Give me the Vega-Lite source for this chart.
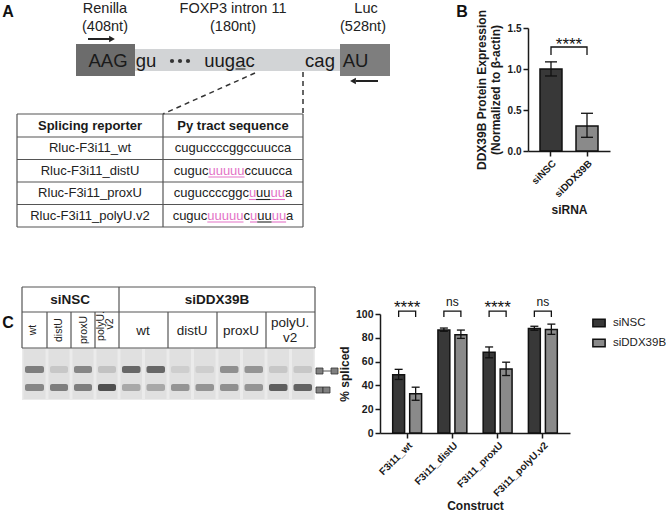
{
  "$schema": "https://vega.github.io/schema/vega-lite/v6.json",
  "padding": 0,
  "autosize": {"type": "pad"},
  "background": "white",
  "spacing": 0,
  "bounds": "flush",
  "columns": 2,
  "resolve": {"scale": {"fill": "independent", "color": "independent"}, "legend": {"fill": "independent", "color": "independent"}},
  "config": {
    "font": "Liberation Sans",
    "view": {"stroke": null},
    "axis": {"labelFont": "Liberation Sans", "titleFont": "Liberation Sans", "labelFontWeight": "bold", "titleFontWeight": "bold", "labelColor": "#1a1a1a", "titleColor": "#1a1a1a", "domainColor": "#1a1a1a", "tickColor": "#1a1a1a", "domainWidth": 1.5, "tickWidth": 1.5, "tickSize": 5, "grid": false, "labelOverlap": false},
    "text": {"font": "Liberation Sans"}
  },
  "concat": [
        {
          "width": 380, "height": 280,
          "encoding": {
            "x": {"field": "x", "type": "quantitative", "scale": {"domain": [0, 380], "nice": false, "zero": false}, "axis": null},
            "y": {"field": "y", "type": "quantitative", "scale": {"domain": [0, 280], "nice": false, "zero": false, "reverse": true}, "axis": null}
          },
          "layer": [
            {"data": {"values": [{"x": 135, "x2": 340, "y": 49, "y2": 71}]}, "mark": {"type": "rect", "fill": "#d2d4d6"}, "encoding": {"x2": {"field": "x2"}, "y2": {"field": "y2"}}},
            {"data": {"values": [{"x": 76, "x2": 135, "y": 44, "y2": 76}]}, "mark": {"type": "rect", "fill": "#6c6c6c"}, "encoding": {"x2": {"field": "x2"}, "y2": {"field": "y2"}}},
            {"data": {"values": [{"x": 340, "x2": 390, "y": 44, "y2": 76}]}, "mark": {"type": "rect", "fill": "#7e7e7e"}, "encoding": {"x2": {"field": "x2"}, "y2": {"field": "y2"}}},
            {"data": {"values": [
              {"x": 105, "y": 9, "t": "Renilla"}, {"x": 105, "y": 27, "t": "(408nt)"},
              {"x": 233, "y": 9, "t": "FOXP3 intron 11"}, {"x": 233, "y": 27, "t": "(180nt)"},
              {"x": 366, "y": 9, "t": "Luc"}, {"x": 363, "y": 27, "t": "(528nt)"}
            ]}, "mark": {"type": "text", "fontSize": 14.5, "color": "#222", "align": "center", "baseline": "middle"}, "encoding": {"text": {"field": "t"}}},
            {"data": {"values": [
              {"x": 108, "y": 61, "t": "AAG"}, {"x": 146, "y": 61, "t": "gu"}, {"x": 229.5, "y": 61, "t": "uugac"},
              {"x": 320, "y": 61, "t": "cag"}, {"x": 355.5, "y": 61, "t": "AU"}
            ]}, "mark": {"type": "text", "fontSize": 18.5, "color": "#1a1a1a", "align": "center", "baseline": "middle"}, "encoding": {"text": {"field": "t"}}},
            {"data": {"values": [{"x": 172, "y": 61}, {"x": 180, "y": 61}, {"x": 188, "y": 61}]}, "mark": {"type": "point", "filled": true, "size": 18, "color": "#333", "opacity": 1}},
            {"data": {"values": [{"x": 235.5, "x2": 245.5, "y": 69, "y2": 69}]}, "mark": {"type": "rule", "strokeWidth": 1.2, "color": "#333"}, "encoding": {"x2": {"field": "x2"}, "y2": {"field": "y2"}}},
            {"data": {"values": [{"x": 88, "x2": 110, "y": 39, "y2": 39}, {"x": 378, "x2": 356, "y": 81, "y2": 81}]}, "mark": {"type": "rule", "strokeWidth": 2, "color": "#222"}, "encoding": {"x2": {"field": "x2"}, "y2": {"field": "y2"}}},
            {"data": {"values": [{"x": 112, "y": 39}]}, "mark": {"type": "point", "shape": "triangle-right", "filled": true, "size": 45, "color": "#222", "opacity": 1}},
            {"data": {"values": [{"x": 353, "y": 81}]}, "mark": {"type": "point", "shape": "triangle-left", "filled": true, "size": 45, "color": "#222", "opacity": 1}},
            {"data": {"values": [{"x": 255, "x2": 163, "y": 73, "y2": 114}, {"x": 303, "x2": 303, "y": 72, "y2": 114}]}, "mark": {"type": "rule", "strokeWidth": 1.5, "color": "#333", "strokeDash": [5, 4]}, "encoding": {"x2": {"field": "x2"}, "y2": {"field": "y2"}}},
            {"data": {"values": [
              {"x": 17, "x2": 303, "y": 114, "y2": 114}, {"x": 17, "x2": 303, "y": 137, "y2": 137},
              {"x": 17, "x2": 303, "y": 159.5, "y2": 159.5}, {"x": 17, "x2": 303, "y": 182, "y2": 182},
              {"x": 17, "x2": 303, "y": 204.5, "y2": 204.5}, {"x": 17, "x2": 303, "y": 227, "y2": 227},
              {"x": 17, "x2": 17, "y": 114, "y2": 227}, {"x": 163, "x2": 163, "y": 114, "y2": 227}, {"x": 303, "x2": 303, "y": 114, "y2": 227}
            ]}, "mark": {"type": "rule", "strokeWidth": 1.2, "color": "#555"}, "encoding": {"x2": {"field": "x2"}, "y2": {"field": "y2"}}},
            {"data": {"values": [{"x": 90, "y": 126, "t": "Splicing reporter"}, {"x": 233, "y": 126, "t": "Py tract sequence"}]}, "mark": {"type": "text", "fontSize": 13, "fontWeight": "bold", "color": "#1a1a1a", "align": "center", "baseline": "middle"}, "encoding": {"text": {"field": "t"}}},
            {"data": {"values": [
              {"x": 90, "y": 148, "t": "Rluc-F3i11_wt"}, {"x": 90, "y": 170.5, "t": "Rluc-F3i11_distU"},
              {"x": 90, "y": 193, "t": "Rluc-F3i11_proxU"}, {"x": 90, "y": 215.5, "t": "Rluc-F3i11_polyU.v2"}
            ]}, "mark": {"type": "text", "fontSize": 13, "color": "#222", "align": "center", "baseline": "middle"}, "encoding": {"text": {"field": "t"}}},
            {"data": {"values": [
              {"x": 174.85, "y": 148, "t": "cuguccccggccuucca", "kind": "plain"},
              {"x": 173.75, "y": 170.5, "t": "cuguc", "kind": "plain"},
              {"x": 208.43, "y": 170.5, "t": "uuuuu", "kind": "pink"},
              {"x": 244.58, "y": 170.5, "t": "ccuucca", "kind": "plain"},
              {"x": 173.74, "y": 193, "t": "cuguccccggc", "kind": "plain"},
              {"x": 248.89, "y": 193, "t": "u", "kind": "pink"},
              {"x": 256.12, "y": 193, "t": "uu", "kind": "plain"},
              {"x": 270.58, "y": 193, "t": "uu", "kind": "pink"},
              {"x": 285.04, "y": 193, "t": "a", "kind": "plain"},
              {"x": 172.64, "y": 215.5, "t": "cuguc", "kind": "plain"},
              {"x": 207.32, "y": 215.5, "t": "uuuuu", "kind": "pink"},
              {"x": 243.47, "y": 215.5, "t": "c", "kind": "plain"},
              {"x": 249.97, "y": 215.5, "t": "u", "kind": "pink"},
              {"x": 257.2, "y": 215.5, "t": "uu", "kind": "plain"},
              {"x": 271.66, "y": 215.5, "t": "uu", "kind": "pink"},
              {"x": 286.12, "y": 215.5, "t": "a", "kind": "plain"}
            ]}, "mark": {"type": "text", "fontSize": 13, "align": "left", "baseline": "middle"}, "encoding": {"text": {"field": "t"}, "color": {"field": "kind", "type": "nominal", "scale": {"domain": ["plain", "pink"], "range": ["#222222", "#e472c6"]}, "legend": null}}},
            {"data": {"values": [
              {"x": 208.4, "x2": 244.6, "y": 177, "y2": 177, "kind": "pink"},
              {"x": 248.9, "x2": 256.1, "y": 199.5, "y2": 199.5, "kind": "pink"},
              {"x": 256.1, "x2": 270.6, "y": 199.5, "y2": 199.5, "kind": "plain"},
              {"x": 270.6, "x2": 285.0, "y": 199.5, "y2": 199.5, "kind": "pink"},
              {"x": 207.3, "x2": 243.5, "y": 222, "y2": 222, "kind": "pink"},
              {"x": 250.0, "x2": 257.2, "y": 222, "y2": 222, "kind": "pink"},
              {"x": 257.2, "x2": 271.7, "y": 222, "y2": 222, "kind": "plain"},
              {"x": 271.7, "x2": 286.1, "y": 222, "y2": 222, "kind": "pink"}
            ]}, "mark": {"type": "rule", "strokeWidth": 1.1}, "encoding": {"x2": {"field": "x2"}, "y2": {"field": "y2"}, "color": {"field": "kind", "type": "nominal", "scale": {"domain": ["plain", "pink"], "range": ["#222222", "#e472c6"]}, "legend": null}}},
            {"data": {"values": [{"x": 8, "y": 17, "t": "A"}, {"x": 462, "y": 17, "t": "B"}]}, "mark": {"type": "text", "fontSize": 16, "fontWeight": "bold", "color": "#111", "align": "center", "baseline": "alphabetic"}, "encoding": {"text": {"field": "t"}}}
          ]
        },
        {
          "width": 230, "height": 151,
          "encoding": {
            "x": {"field": "siRNA", "type": "nominal", "sort": ["siNSC", "siDDX39B"], "scale": {"range": [148, 230], "paddingInner": 0.389, "paddingOuter": 0.333}, "axis": {"title": "siRNA", "labelAngle": -45, "labelFontSize": 10, "titleFontSize": 12, "titlePadding": 6}}
          },
          "layer": [
            {
              "data": {"values": [{"siRNA": "siNSC", "mean": 1.0, "lo": 0.915, "hi": 1.087}, {"siRNA": "siDDX39B", "mean": 0.305, "lo": 0.167, "hi": 0.46}]},
              "layer": [
                {"mark": {"type": "bar", "stroke": "#111", "strokeWidth": 1.5}, "encoding": {
                  "y": {"field": "mean", "type": "quantitative", "scale": {"domain": [0, 1.5], "range": [151, 28], "nice": false}, "axis": {"title": ["DDX39B Protein Expression", "(Normalized to β-actin)"], "values": [0, 0.5, 1, 1.5], "format": ".1f", "labelFontSize": 10, "titleFontSize": 12, "titlePadding": 5, "offset": -148}},
                  "fill": {"field": "siRNA", "type": "nominal", "scale": {"domain": ["siNSC", "siDDX39B"], "range": ["#383838", "#8a8a8a"]}, "legend": null}
                }},
                {"mark": {"type": "rule", "strokeWidth": 1.3, "color": "#111"}, "encoding": {"y": {"field": "lo", "type": "quantitative", "scale": {"domain": [0, 1.5], "range": [151, 28], "nice": false}, "axis": {"title": ["DDX39B Protein Expression", "(Normalized to β-actin)"], "values": [0, 0.5, 1, 1.5], "format": ".1f", "labelFontSize": 10, "titleFontSize": 12, "titlePadding": 5, "offset": -148}}, "y2": {"field": "hi"}}},
                {"mark": {"type": "tick", "thickness": 1.3, "size": 12, "color": "#111", "opacity": 1}, "encoding": {"y": {"field": "lo", "type": "quantitative", "scale": {"domain": [0, 1.5], "range": [151, 28], "nice": false}, "axis": {"title": ["DDX39B Protein Expression", "(Normalized to β-actin)"], "values": [0, 0.5, 1, 1.5], "format": ".1f", "labelFontSize": 10, "titleFontSize": 12, "titlePadding": 5, "offset": -148}}}},
                {"mark": {"type": "tick", "thickness": 1.3, "size": 12, "color": "#111", "opacity": 1}, "encoding": {"y": {"field": "hi", "type": "quantitative", "scale": {"domain": [0, 1.5], "range": [151, 28], "nice": false}, "axis": {"title": ["DDX39B Protein Expression", "(Normalized to β-actin)"], "values": [0, 0.5, 1, 1.5], "format": ".1f", "labelFontSize": 10, "titleFontSize": 12, "titlePadding": 5, "offset": -148}}}}
              ]
            },
            {
              "data": {"values": [{"siRNA": "siNSC", "v": 1.17, "ord": 1}, {"siRNA": "siNSC", "v": 1.268, "ord": 2}, {"siRNA": "siDDX39B", "v": 1.268, "ord": 3}, {"siRNA": "siDDX39B", "v": 1.17, "ord": 4}]},
              "mark": {"type": "line", "strokeWidth": 1.3, "color": "#111"},
              "encoding": {"y": {"field": "v", "type": "quantitative", "scale": {"domain": [0, 1.5], "range": [151, 28], "nice": false}, "axis": {"title": ["DDX39B Protein Expression", "(Normalized to β-actin)"], "values": [0, 0.5, 1, 1.5], "format": ".1f", "labelFontSize": 10, "titleFontSize": 12, "titlePadding": 5, "offset": -148}}, "order": {"field": "ord", "type": "quantitative"}}
            },
            {
              "data": {"values": [{"siRNA": "siNSC", "v": 1.229, "label": "****"}]},
              "mark": {"type": "text", "fontSize": 17, "color": "#111", "align": "center", "baseline": "alphabetic", "dx": 18},
              "encoding": {"y": {"field": "v", "type": "quantitative", "scale": {"domain": [0, 1.5], "range": [151, 28], "nice": false}, "axis": {"title": ["DDX39B Protein Expression", "(Normalized to β-actin)"], "values": [0, 0.5, 1, 1.5], "format": ".1f", "labelFontSize": 10, "titleFontSize": 12, "titlePadding": 5, "offset": -148}}, "text": {"field": "label"}}
            }
          ]
        },
        {
          "width": 380, "height": 233,
          "encoding": {
            "x": {"field": "x", "type": "quantitative", "scale": {"domain": [0, 380], "nice": false, "zero": false}, "axis": null},
            "y": {"field": "y", "type": "quantitative", "scale": {"domain": [280, 513], "nice": false, "zero": false, "reverse": true}, "axis": null}
          },
          "layer": [
            {"data": {"values": [{"x": 22, "x2": 315, "y": 348, "y2": 400}]}, "mark": {"type": "rect", "fill": "#ebebeb"}, "encoding": {"x2": {"field": "x2"}, "y2": {"field": "y2"}}},
            {"data": {"values": [
              {"x": 23.5, "x2": 45.5, "y": 349, "y2": 399}, {"x": 48.5, "x2": 69.5, "y": 349, "y2": 399},
              {"x": 72.5, "x2": 93.5, "y": 349, "y2": 399}, {"x": 96.5, "x2": 117.5, "y": 349, "y2": 399},
              {"x": 120.5, "x2": 142, "y": 349, "y2": 399}, {"x": 145, "x2": 166.5, "y": 349, "y2": 399},
              {"x": 169.5, "x2": 191, "y": 349, "y2": 399}, {"x": 194, "x2": 215.5, "y": 349, "y2": 399},
              {"x": 218.5, "x2": 240, "y": 349, "y2": 399}, {"x": 243, "x2": 264.5, "y": 349, "y2": 399},
              {"x": 267.5, "x2": 289, "y": 349, "y2": 399}, {"x": 292, "x2": 313.5, "y": 349, "y2": 399}
            ]}, "mark": {"type": "rect", "fill": "#e0e0e0"}, "encoding": {"x2": {"field": "x2"}, "y2": {"field": "y2"}}},
            {"data": {"values": [
              {"x": 25, "x2": 44, "y": 366, "y2": 373, "intensity": 0.55}, {"x": 25, "x2": 44, "y": 384, "y2": 391, "intensity": 0.5},
              {"x": 50, "x2": 68, "y": 366, "y2": 373, "intensity": 0.12}, {"x": 50, "x2": 68, "y": 384, "y2": 391, "intensity": 0.55},
              {"x": 74, "x2": 92, "y": 366, "y2": 373, "intensity": 0.5}, {"x": 74, "x2": 92, "y": 384, "y2": 391, "intensity": 0.55},
              {"x": 98, "x2": 116, "y": 366, "y2": 373, "intensity": 0.15}, {"x": 98, "x2": 116, "y": 384, "y2": 391, "intensity": 0.85},
              {"x": 122, "x2": 140.5, "y": 366, "y2": 373, "intensity": 0.7}, {"x": 122, "x2": 140.5, "y": 384, "y2": 391, "intensity": 0.3},
              {"x": 146.5, "x2": 165, "y": 366, "y2": 373, "intensity": 0.7}, {"x": 146.5, "x2": 165, "y": 384, "y2": 391, "intensity": 0.3},
              {"x": 171, "x2": 189.5, "y": 366, "y2": 373, "intensity": 0.08}, {"x": 171, "x2": 189.5, "y": 384, "y2": 391, "intensity": 0.42},
              {"x": 195.5, "x2": 214, "y": 366, "y2": 373, "intensity": 0.08}, {"x": 195.5, "x2": 214, "y": 384, "y2": 391, "intensity": 0.42},
              {"x": 220, "x2": 238.5, "y": 366, "y2": 373, "intensity": 0.45}, {"x": 220, "x2": 238.5, "y": 384, "y2": 391, "intensity": 0.45},
              {"x": 244.5, "x2": 263, "y": 366, "y2": 373, "intensity": 0.42}, {"x": 244.5, "x2": 263, "y": 384, "y2": 391, "intensity": 0.42},
              {"x": 269, "x2": 287.5, "y": 366, "y2": 373, "intensity": 0.12}, {"x": 269, "x2": 287.5, "y": 384, "y2": 391, "intensity": 0.75},
              {"x": 293.5, "x2": 312, "y": 366, "y2": 373, "intensity": 0.12}, {"x": 293.5, "x2": 312, "y": 384, "y2": 391, "intensity": 0.72}
            ]}, "mark": {"type": "rect", "cornerRadius": 2}, "encoding": {"x2": {"field": "x2"}, "y2": {"field": "y2"}, "color": {"field": "intensity", "type": "quantitative", "scale": {"domain": [0, 1], "range": ["#dcdcdc", "#3a3a3a"]}, "legend": null}}},
            {"data": {"values": [
              {"x": 22, "x2": 315, "y": 287, "y2": 287}, {"x": 22, "x2": 315, "y": 312, "y2": 312}, {"x": 22, "x2": 315, "y": 348, "y2": 348},
              {"x": 22, "x2": 22, "y": 287, "y2": 348}, {"x": 119, "x2": 119, "y": 287, "y2": 348}, {"x": 315, "x2": 315, "y": 287, "y2": 348},
              {"x": 47, "x2": 47, "y": 312, "y2": 348}, {"x": 71, "x2": 71, "y": 312, "y2": 348}, {"x": 95, "x2": 95, "y": 312, "y2": 348},
              {"x": 168, "x2": 168, "y": 312, "y2": 348}, {"x": 217, "x2": 217, "y": 312, "y2": 348}, {"x": 266, "x2": 266, "y": 312, "y2": 348}
            ]}, "mark": {"type": "rule", "strokeWidth": 1.2, "color": "#555"}, "encoding": {"x2": {"field": "x2"}, "y2": {"field": "y2"}}},
            {"data": {"values": [{"x": 70, "y": 300, "t": "siNSC"}, {"x": 217, "y": 300, "t": "siDDX39B"}]}, "mark": {"type": "text", "fontSize": 13.5, "fontWeight": "bold", "color": "#1a1a1a", "align": "center", "baseline": "middle"}, "encoding": {"text": {"field": "t"}}},
            {"data": {"values": [
              {"x": 143, "y": 331, "t": "wt"}, {"x": 192, "y": 331, "t": "distU"}, {"x": 241, "y": 331, "t": "proxU"},
              {"x": 290, "y": 323, "t": "polyU."}, {"x": 290, "y": 338, "t": "v2"}
            ]}, "mark": {"type": "text", "fontSize": 13.5, "color": "#222", "align": "center", "baseline": "middle"}, "encoding": {"text": {"field": "t"}}},
            {"data": {"values": [
              {"x": 33, "y": 330, "t": "wt"}, {"x": 59, "y": 330, "t": "distU"}, {"x": 84, "y": 330, "t": "proxU"},
              {"x": 100.5, "y": 326, "t": "polyU."}, {"x": 110, "y": 324, "t": "v2"}
            ]}, "mark": {"type": "text", "fontSize": 10.5, "color": "#222", "align": "center", "baseline": "middle", "angle": 270}, "encoding": {"text": {"field": "t"}}},
            {"data": {"values": [
              {"x": 316, "x2": 323, "y": 368, "y2": 374}, {"x": 331, "x2": 338, "y": 368, "y2": 374},
              {"x": 316, "x2": 323, "y": 387, "y2": 393}, {"x": 323, "x2": 330, "y": 387, "y2": 393}
            ]}, "mark": {"type": "rect", "fill": "#808080", "stroke": "#333", "strokeWidth": 0.8}, "encoding": {"x2": {"field": "x2"}, "y2": {"field": "y2"}}},
            {"data": {"values": [{"x": 323, "x2": 331, "y": 371, "y2": 371}]}, "mark": {"type": "rule", "strokeWidth": 1, "color": "#555"}, "encoding": {"x2": {"field": "x2"}, "y2": {"field": "y2"}}},
            {"data": {"values": [{"x": 8, "y": 328, "t": "C"}]}, "mark": {"type": "text", "fontSize": 16, "fontWeight": "bold", "color": "#111", "align": "center", "baseline": "alphabetic"}, "encoding": {"text": {"field": "t"}}}
          ]
        },
        {
          "width": 190, "height": 153,
          "encoding": {
            "x": {"field": "construct", "type": "nominal", "sort": ["F3i11_wt", "F3i11_distU", "F3i11_proxU", "F3i11_polyU.v2"], "scale": {"paddingInner": 0, "paddingOuter": 0.1}, "axis": {"title": "Construct", "labelAngle": -45, "labelFontSize": 10, "titleFontSize": 12, "titlePadding": 2}}
          },
          "layer": [
            {
              "data": {"values": [
                {"construct": "F3i11_wt", "group": "siNSC", "mean": 49, "lo": 45, "hi": 53.5},
                {"construct": "F3i11_wt", "group": "siDDX39B", "mean": 33, "lo": 27.5, "hi": 38.5},
                {"construct": "F3i11_distU", "group": "siNSC", "mean": 86.5, "lo": 85.5, "hi": 88.2},
                {"construct": "F3i11_distU", "group": "siDDX39B", "mean": 82.5, "lo": 79.5, "hi": 86.5},
                {"construct": "F3i11_proxU", "group": "siNSC", "mean": 67.8, "lo": 63.2, "hi": 72.3},
                {"construct": "F3i11_proxU", "group": "siDDX39B", "mean": 53.8, "lo": 48.3, "hi": 59.5},
                {"construct": "F3i11_polyU.v2", "group": "siNSC", "mean": 87.9, "lo": 86.3, "hi": 89.7},
                {"construct": "F3i11_polyU.v2", "group": "siDDX39B", "mean": 87, "lo": 82.9, "hi": 91.5}
              ]},
              "layer": [
                {"mark": {"type": "bar", "stroke": "#111", "strokeWidth": 1.5}, "encoding": {
                  "xOffset": {"field": "group", "sort": ["siNSC", "siDDX39B"], "scale": {"paddingInner": 0.3, "paddingOuter": 0.48}},
                  "y": {"field": "mean", "type": "quantitative", "scale": {"domain": [0, 100], "range": [153, 34], "nice": false}, "axis": {"title": "% spliced", "values": [0, 20, 40, 60, 80, 100], "tickCount": 6, "labelOverlap": false, "labelFontSize": 10.5, "titleFontSize": 12, "titlePadding": 4}},
                  "fill": {"field": "group", "type": "nominal", "sort": ["siNSC", "siDDX39B"], "scale": {"domain": ["siNSC", "siDDX39B"], "range": ["#383838", "#8a8a8a"]}, "legend": {"title": null, "orient": "none", "legendX": 212, "legendY": 36, "symbolType": "M-1,-0.6H1V0.6H-1Z", "symbolSize": 150, "symbolStrokeColor": "#111", "symbolStrokeWidth": 1.5, "symbolOpacity": 1, "labelFontSize": 11.5, "labelFont": "Liberation Sans", "labelColor": "#222", "labelOffset": 7, "rowPadding": 6, "padding": 0}}
                }},
                {"mark": {"type": "rule", "strokeWidth": 1.3, "color": "#111"}, "encoding": {
                  "xOffset": {"field": "group", "sort": ["siNSC", "siDDX39B"], "scale": {"paddingInner": 0.3, "paddingOuter": 0.48}},
                  "y": {"field": "lo", "type": "quantitative", "scale": {"domain": [0, 100], "range": [153, 34], "nice": false}, "axis": {"title": "% spliced", "values": [0, 20, 40, 60, 80, 100], "tickCount": 6, "labelOverlap": false, "labelFontSize": 10.5, "titleFontSize": 12, "titlePadding": 4}}, "y2": {"field": "hi"}}},
                {"mark": {"type": "tick", "thickness": 1.3, "size": 8, "color": "#111", "opacity": 1}, "encoding": {
                  "xOffset": {"field": "group", "sort": ["siNSC", "siDDX39B"], "scale": {"paddingInner": 0.3, "paddingOuter": 0.48}},
                  "y": {"field": "lo", "type": "quantitative", "scale": {"domain": [0, 100], "range": [153, 34], "nice": false}, "axis": {"title": "% spliced", "values": [0, 20, 40, 60, 80, 100], "tickCount": 6, "labelOverlap": false, "labelFontSize": 10.5, "titleFontSize": 12, "titlePadding": 4}}}},
                {"mark": {"type": "tick", "thickness": 1.3, "size": 8, "color": "#111", "opacity": 1}, "encoding": {
                  "xOffset": {"field": "group", "sort": ["siNSC", "siDDX39B"], "scale": {"paddingInner": 0.3, "paddingOuter": 0.48}},
                  "y": {"field": "hi", "type": "quantitative", "scale": {"domain": [0, 100], "range": [153, 34], "nice": false}, "axis": {"title": "% spliced", "values": [0, 20, 40, 60, 80, 100], "tickCount": 6, "labelOverlap": false, "labelFontSize": 10.5, "titleFontSize": 12, "titlePadding": 4}}}}
              ]
            },
            {
              "data": {"values": [
                {"construct": "F3i11_wt", "group": "siNSC", "v": 97.5, "ord": 1}, {"construct": "F3i11_wt", "group": "siNSC", "v": 102.5, "ord": 2},
                {"construct": "F3i11_wt", "group": "siDDX39B", "v": 102.5, "ord": 3}, {"construct": "F3i11_wt", "group": "siDDX39B", "v": 97.5, "ord": 4},
                {"construct": "F3i11_distU", "group": "siNSC", "v": 97.5, "ord": 1}, {"construct": "F3i11_distU", "group": "siNSC", "v": 102.5, "ord": 2},
                {"construct": "F3i11_distU", "group": "siDDX39B", "v": 102.5, "ord": 3}, {"construct": "F3i11_distU", "group": "siDDX39B", "v": 97.5, "ord": 4},
                {"construct": "F3i11_proxU", "group": "siNSC", "v": 97.5, "ord": 1}, {"construct": "F3i11_proxU", "group": "siNSC", "v": 102.5, "ord": 2},
                {"construct": "F3i11_proxU", "group": "siDDX39B", "v": 102.5, "ord": 3}, {"construct": "F3i11_proxU", "group": "siDDX39B", "v": 97.5, "ord": 4},
                {"construct": "F3i11_polyU.v2", "group": "siNSC", "v": 97.5, "ord": 1}, {"construct": "F3i11_polyU.v2", "group": "siNSC", "v": 102.5, "ord": 2},
                {"construct": "F3i11_polyU.v2", "group": "siDDX39B", "v": 102.5, "ord": 3}, {"construct": "F3i11_polyU.v2", "group": "siDDX39B", "v": 97.5, "ord": 4}
              ]},
              "mark": {"type": "line", "strokeWidth": 1.3, "color": "#111"},
              "encoding": {
                "xOffset": {"field": "group", "sort": ["siNSC", "siDDX39B"], "scale": {"paddingInner": 0.3, "paddingOuter": 0.48}},
                "y": {"field": "v", "type": "quantitative", "scale": {"domain": [0, 100], "range": [153, 34], "nice": false}, "axis": {"title": "% spliced", "values": [0, 20, 40, 60, 80, 100], "tickCount": 6, "labelOverlap": false, "labelFontSize": 10.5, "titleFontSize": 12, "titlePadding": 4}},
                "detail": {"field": "construct"},
                "order": {"field": "ord", "type": "quantitative"}
              }
            },
            {
              "data": {"values": [{"construct": "F3i11_wt", "label": "****", "v": 100.6}, {"construct": "F3i11_proxU", "label": "****", "v": 100.6}]},
              "mark": {"type": "text", "fontSize": 17, "color": "#111", "align": "center", "baseline": "alphabetic"},
              "encoding": {"y": {"field": "v", "type": "quantitative", "scale": {"domain": [0, 100], "range": [153, 34], "nice": false}, "axis": {"title": "% spliced", "values": [0, 20, 40, 60, 80, 100], "tickCount": 6, "labelOverlap": false, "labelFontSize": 10.5, "titleFontSize": 12, "titlePadding": 4}}, "text": {"field": "label"}}
            },
            {
              "data": {"values": [{"construct": "F3i11_distU", "label": "ns", "v": 106.7}, {"construct": "F3i11_polyU.v2", "label": "ns", "v": 106.7}]},
              "mark": {"type": "text", "fontSize": 12, "color": "#111", "align": "center", "baseline": "alphabetic"},
              "encoding": {"y": {"field": "v", "type": "quantitative", "scale": {"domain": [0, 100], "range": [153, 34], "nice": false}, "axis": {"title": "% spliced", "values": [0, 20, 40, 60, 80, 100], "tickCount": 6, "labelOverlap": false, "labelFontSize": 10.5, "titleFontSize": 12, "titlePadding": 4}}, "text": {"field": "label"}}
            }
          ]
        }
  ]
}
